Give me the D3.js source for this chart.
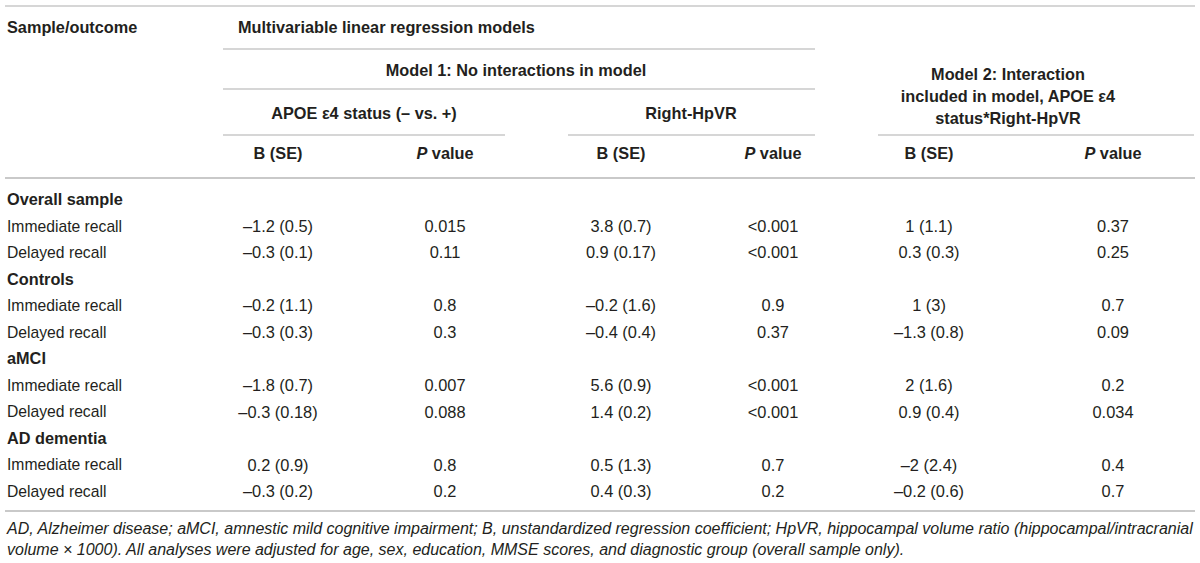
<!DOCTYPE html>
<html><head><meta charset="utf-8">
<script src="https://cdn.jsdelivr.net/npm/d3@7"></script>
<style>
html,body{margin:0;padding:0;background:#fff;}
svg{display:block;font-family:"Liberation Sans",Arial,Helvetica,sans-serif;}
</style></head>
<body>
<svg id="chart" width="1200" height="563"></svg>
<script>
// ---- data ----
const groups = ["Overall sample", "Controls", "aMCI", "AD dementia"];
const outcomes = ["Immediate recall", "Delayed recall"];
const columnKeys = ["apoeB", "apoeP", "hpvrB", "hpvrP", "intB", "intP"];
const columnHeaders = ["B (SE)", "P value", "B (SE)", "P value", "B (SE)", "P value"];
const apoeB = ["–1.2 (0.5)", "–0.3 (0.1)", "–0.2 (1.1)", "–0.3 (0.3)", "–1.8 (0.7)", "–0.3 (0.18)", "0.2 (0.9)", "–0.3 (0.2)"];
const apoeP = ["0.015", "0.11", "0.8", "0.3", "0.007", "0.088", "0.8", "0.2"];
const hpvrB = ["3.8 (0.7)", "0.9 (0.17)", "–0.2 (1.6)", "–0.4 (0.4)", "5.6 (0.9)", "1.4 (0.2)", "0.5 (1.3)", "0.4 (0.3)"];
const hpvrP = ["<0.001", "<0.001", "0.9", "0.37", "<0.001", "<0.001", "0.7", "0.2"];
const intB = ["1 (1.1)", "0.3 (0.3)", "1 (3)", "–1.3 (0.8)", "2 (1.6)", "0.9 (0.4)", "–2 (2.4)", "–0.2 (0.6)"];
const intP = ["0.37", "0.25", "0.7", "0.09", "0.2", "0.034", "0.4", "0.7"];
const headerTop = "Sample/outcome";
const headerMain = "Multivariable linear regression models";
const headerModel1 = "Model 1: No interactions in model";
const headerModel2 = ["Model 2: Interaction", "included in model, APOE ε4", "status*Right-HpVR"];
const subHeaders = ["APOE ε4 status (– vs. +)", "Right-HpVR"];
const footnote = [
  "AD, Alzheimer disease; aMCI, amnestic mild cognitive impairment; B, unstandardized regression coefficient; HpVR, hippocampal volume ratio (hippocampal/intracranial",
  "volume × 1000). All analyses were adjusted for age, sex, education, MMSE scores, and diagnostic group (overall sample only)."
];

const cols = {apoeB, apoeP, hpvrB, hpvrP, intB, intP};

// ---- build rows ----
const rows = [];
groups.forEach((g, gi) => {
  rows.push({type: "group", label: g});
  outcomes.forEach((o, oi) => {
    const idx = gi * outcomes.length + oi;
    const r = {type: "data", label: o};
    columnKeys.forEach(k => r[k] = cols[k][idx]);
    rows.push(r);
  });
});

// ---- layout ----
const svg = d3.select("#chart");
const ink = "#231f20";
const ruleColor = "#c9c9c9";
const fsBold = 16.3;
const fsLabel = 15.7;
const fsNum = 16.4;

const x = d3.scaleOrdinal().domain(columnKeys).range([278, 445, 621, 773, 929, 1113]);
const y = d3.scalePoint().domain(d3.range(rows.length)).range([199.5, 491.5]);

function rule(y0, x0, x1, w) {
  svg.append("line").attr("x1", x0).attr("x2", x1).attr("y1", y0).attr("y2", y0)
    .attr("stroke", ruleColor).attr("stroke-width", w || 1.6);
}

// rules
rule(6, 5, 1195);
rule(49, 223, 815);
rule(89, 223, 815);
rule(135, 223, 505);
rule(135, 568, 815);
rule(135, 878, 1194);
rule(178, 5, 1195, 2);
rule(511, 5, 1195, 2);

function txt(t, xx, yy, opts) {
  opts = opts || {};
  return svg.append("text").attr("x", xx).attr("y", yy)
    .attr("dy", "0.35em")
    .attr("text-anchor", opts.anchor || "start")
    .attr("font-size", opts.size || fsBold)
    .attr("font-weight", opts.bold ? "bold" : "normal")
    .attr("font-style", opts.italic ? "italic" : "normal")
    .attr("fill", ink)
    .text(t);
}

// header texts
txt(headerTop, 7, 27, {bold: true});
txt(headerMain, 238, 27, {bold: true});
txt(headerModel1, 516, 70, {bold: true, anchor: "middle"});
headerModel2.forEach((t, i) => txt(t, 1008, 74 + i * 22, {bold: true, anchor: "middle"}));
txt(subHeaders[0], 364, 113, {bold: true, anchor: "middle"});
txt(subHeaders[1], 691, 113, {bold: true, anchor: "middle"});

// column headers
columnKeys.forEach((k, i) => {
  const h = columnHeaders[i];
  const t = svg.append("text").attr("x", x(k)).attr("y", 153).attr("dy", "0.35em")
    .attr("text-anchor", "middle").attr("font-size", fsBold).attr("font-weight", "bold").attr("fill", ink);
  if (h.startsWith("P ")) {
    t.append("tspan").attr("font-style", "italic").text("P");
    t.append("tspan").text(" value");
  } else {
    t.text(h);
  }
});

// body rows
const rowG = svg.selectAll("g.row").data(rows).join("g").attr("class", "row")
  .attr("transform", (d, i) => `translate(0,${y(i)})`);
rowG.append("text").attr("x", 7).attr("dy", "0.35em")
  .attr("font-size", d => d.type === "group" ? fsBold : fsLabel).attr("fill", ink)
  .attr("font-weight", d => d.type === "group" ? "bold" : "normal")
  .text(d => d.label);
rowG.filter(d => d.type === "data").each(function(d) {
  const g = d3.select(this);
  columnKeys.forEach(k => {
    g.append("text").attr("x", x(k)).attr("dy", "0.35em").attr("text-anchor", "middle")
      .attr("font-size", fsNum).attr("fill", ink).text(d[k]);
  });
});

// footnote
const f1 = txt(footnote[0], 7, 528, {italic: true, size: 14});
const wNat = f1.node().getComputedTextLength();
const fsF = 14 * 1187 / wNat;
f1.attr("font-size", fsF);
txt(footnote[1], 7, 549, {italic: true, size: fsF});
</script>
</body></html>
